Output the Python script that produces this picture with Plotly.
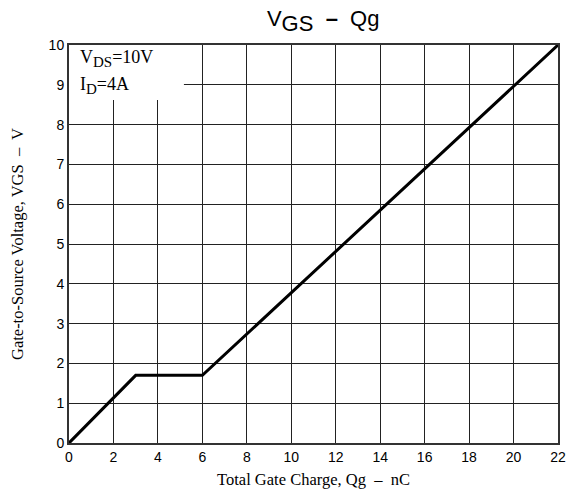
import plotly.graph_objects as go

qg = [0, 3, 6, 22]
vgs = [0, 1.7, 1.7, 10]
x_ticks = list(range(0, 23, 2))
y_ticks = list(range(0, 11))

fig = go.Figure()
fig.add_trace(go.Scatter(x=qg, y=vgs, mode="lines",
                         line=dict(color="black", width=3), showlegend=False))

axis_common = dict(showline=True, linecolor="#333", linewidth=2, mirror=True,
                   showgrid=True, gridcolor="#222", gridwidth=1, zeroline=False,
                   automargin=False,
                   ticks="", tickfont=dict(family="Arial, Liberation Sans", size=14, color="black"))

serif = "Liberation Serif, Times New Roman"

fig.update_xaxes(range=[0, 22], tickvals=x_ticks,
                 title=dict(text="Total Gate Charge, Qg  –  nC",
                            font=dict(family=serif, size=16.5, color="black"),
                            standoff=10),
                 **axis_common)
fig.update_yaxes(range=[0, 10], tickvals=y_ticks,
                 title=dict(text="Gate-to-Source Voltage, VGS  –  V",
                            font=dict(family=serif, size=16.5, color="black"),
                            standoff=21),
                 **axis_common)

fig.add_shape(type="rect", xref="x", yref="y", x0=0, x1=5.17, y0=8.62, y1=10,
              fillcolor="white", line=dict(width=0), layer="between")

fig.add_annotation(xref="x", yref="y", x=0.4, y=9.66, xanchor="left", yanchor="middle",
                   text="V<sub><span style='font-size:15px'>DS</span></sub>=10V", showarrow=False,
                   font=dict(family=serif, size=18, color="black"))
fig.add_annotation(xref="x", yref="y", x=0.4, y=8.98, xanchor="left", yanchor="middle",
                   text="I<sub><span style='font-size:15px'>D</span></sub>=4A", showarrow=False,
                   font=dict(family=serif, size=18, color="black"))

fig.update_layout(
    width=570, height=489,
    margin=dict(l=69, r=12, t=45, b=46),
    paper_bgcolor="white", plot_bgcolor="white",
    title=dict(text="V<sub><span style='font-size:22px'>GS</span></sub>  <b>–</b>  Qg",
               x=0.567, xanchor="center", y=0.962, yanchor="middle",
               font=dict(family="Arial, Liberation Sans", size=22, color="black")),
)

fig.write_html("out.html")
